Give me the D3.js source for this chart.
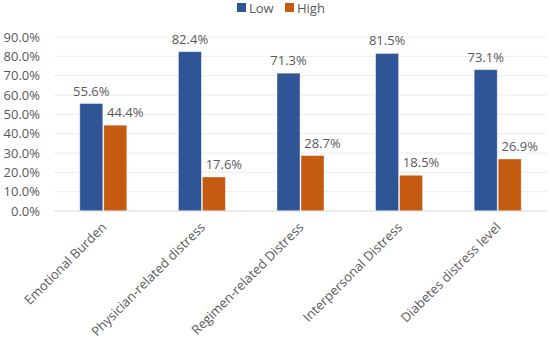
<!DOCTYPE html>
<html>
<head>
<meta charset="utf-8">
<script src="https://cdn.jsdelivr.net/npm/d3@7"></script>
<style>
  body { margin: 0; background: #fff; }
  text { font-family: "Open Sans", "Noto Sans", sans-serif; fill: #595959; }
</style>
</head>
<body>
<svg id="chart" width="550" height="342"></svg>
<script>
const categories = ["Emotional Burden", "Physician-related distress", "Regimen-related Distress", "Interpersonal Distress", "Diabetes distress level"];
const seriesNames = ["Low", "High"];
const lowValues = [55.6, 82.4, 71.3, 81.5, 73.1];
const highValues = [44.4, 17.6, 28.7, 18.5, 26.9];
const yTicks = [0, 10, 20, 30, 40, 50, 60, 70, 80, 90];
const colors = ["#2F5597", "#C55A11"];

const svg = d3.select("#chart");
const margin = {left: 54, right: 3, top: 37, bottom: 131};
const width = 550, height = 342;

const x = d3.scaleBand()
    .domain(categories)
    .range([margin.left, width - margin.right]);

const xInner = d3.scaleBand()
    .domain(seriesNames)
    .range([0, 47])
    .paddingInner(0.04);

const y = d3.scaleLinear()
    .domain([0, 90])
    .range([height - margin.bottom, margin.top]);

// gridlines
svg.append("g")
  .selectAll("line")
  .data(yTicks.slice(1))
  .join("line")
    .attr("x1", margin.left)
    .attr("x2", width - margin.right)
    .attr("y1", d => y(d))
    .attr("y2", d => y(d))
    .attr("stroke", "#ececec")
    .attr("stroke-width", 1);

// y axis labels
const yAxis = d3.axisLeft(y).tickValues(yTicks).tickFormat(d => d.toFixed(1) + "%").tickSize(0).tickPadding(14);
svg.append("g")
    .attr("transform", `translate(${margin.left},0)`)
    .call(yAxis)
    .call(g => g.select(".domain").remove())
    .selectAll("text")
    .style("font-size", "13px")
    .attr("fill", "#595959");

const rows = categories.map((c, i) => ({cat: c, values: [lowValues[i], highValues[i]]}));

const groups = svg.append("g")
  .selectAll("g")
  .data(rows)
  .join("g")
    .attr("transform", d => `translate(${x(d.cat) + x.bandwidth() / 2 - 23.5},0)`);

groups.selectAll("rect")
  .data(d => d.values.map((v, j) => ({name: seriesNames[j], v: v, j: j})))
  .join("rect")
    .attr("x", d => xInner(d.name))
    .attr("width", xInner.bandwidth())
    .attr("y", d => y(d.v))
    .attr("height", d => y(0) - y(d.v))
    .attr("fill", d => colors[d.j])
    .attr("stroke", "#ffffff")
    .attr("stroke-opacity", 0.5)
    .attr("stroke-width", 0.8);

groups.selectAll("text.val")
  .data(d => d.values.map((v, j) => ({name: seriesNames[j], v: v, j: j})))
  .join("text")
    .attr("class", "val")
    .attr("x", d => xInner(d.name) + xInner.bandwidth() / 2 + (d.j === 1 ? 10 : 0))
    .attr("y", d => y(d.v) - 8)
    .attr("text-anchor", "middle")
    .style("font-size", "13px")
    .attr("fill", "#404040")
    .text(d => d.v.toFixed(1) + "%");

// baseline
svg.append("line")
    .attr("x1", margin.left)
    .attr("x2", width - margin.right)
    .attr("y1", y(0))
    .attr("y2", y(0))
    .attr("stroke", "#d9d9d9")
    .attr("stroke-width", 1);

// x labels
svg.append("g")
  .selectAll("text")
  .data(categories)
  .join("text")
    .attr("transform", d => `translate(${x(d) + x.bandwidth() / 2 + 4},${y(0) + 17}) rotate(-45)`)
    .attr("text-anchor", "end")
    .style("font-size", "13px")
    .attr("fill", "#595959")
    .text(d => d);

// legend
const legend = svg.append("g")
  .selectAll("g")
  .data(seriesNames)
  .join("g")
    .attr("transform", (d, i) => `translate(${237 + i * 48},3)`);

legend.append("rect")
    .attr("width", 9)
    .attr("height", 9)
    .attr("fill", (d, i) => colors[i]);

legend.append("text")
    .attr("x", 12)
    .attr("y", 9.5)
    .style("font-size", "13px")
    .attr("fill", "#595959")
    .text(d => d);
</script>
</body>
</html>
